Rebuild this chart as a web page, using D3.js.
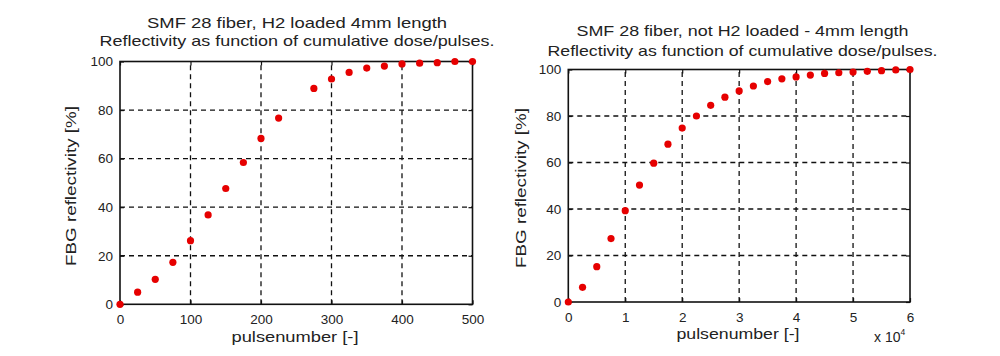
<!DOCTYPE html>
<html><head><meta charset="utf-8">
<script src="https://cdn.jsdelivr.net/npm/d3@7"></script>
<style>body{margin:0;background:#fff}svg{display:block}text{font-family:"Liberation Sans",Arial,sans-serif;fill:#222}</style>
</head><body><svg id="c" width="1000" height="356"></svg>
<script>
// Left panel: H2 loaded
const leftPulses = [0,25,50,75,100,125,150,175,200,225,275,300,325,350,375,400,425,450,475,500];
const leftRefl   = [0,5.0,10.3,17.3,26.2,36.8,47.7,58.4,68.3,76.7,88.9,92.8,95.5,97.3,98.1,99.0,99.3,99.5,100,100];
// Right panel: not H2 loaded (pulses in units of 1e4)
const rightPulses = [0,0.25,0.5,0.75,1.0,1.25,1.5,1.75,2.0,2.25,2.5,2.75,3.0,3.25,3.5,3.75,4.0,4.25,4.5,4.75,5.0,5.25,5.5,5.75,6.0];
const rightRefl   = [0,6.3,15.2,27.3,39.3,50.3,59.7,67.9,74.8,80.0,84.6,88.1,90.8,92.9,94.8,96.0,96.8,97.6,98.3,98.6,98.9,99.2,99.5,99.8,100];
const leftXTicks = [0,100,200,300,400,500];
const rightXTicks = [0,1,2,3,4,5,6];
const yTicks = [0,20,40,60,80,100];
const leftTitle = ["SMF 28 fiber, H2 loaded 4mm length","Reflectivity as function of cumulative dose/pulses."];
const rightTitle = ["SMF 28 fiber, not H2 loaded - 4mm length","Reflectivity as function of cumulative dose/pulses."];
const xLabel = "pulsenumber [-]";
const yLabel = "FBG reflectivity [%]";

const svg = d3.select("#c");

function panel(cfg){
  const x = d3.scaleLinear().domain(cfg.xdom).range([cfg.x0,cfg.x1]);
  const y = d3.scaleLinear().domain([0,100]).range([cfg.yb,cfg.yt]);
  const g = svg.append("g");
  // grid
  g.selectAll(".gx").data(cfg.xticks.slice(1,-1)).enter().append("line")
    .attr("x1",d=>x(d)).attr("x2",d=>x(d)).attr("y1",cfg.yb).attr("y2",cfg.yt)
    .attr("stroke","#111").attr("stroke-width",1.3).attr("stroke-dasharray","5,4");
  g.selectAll(".gy").data(yTicks.slice(1,-1)).enter().append("line")
    .attr("y1",d=>y(d)).attr("y2",d=>y(d)).attr("x1",cfg.x0).attr("x2",cfg.x1)
    .attr("stroke","#111").attr("stroke-width",1.3).attr("stroke-dasharray","5,4");
  // axes with inward ticks
  const ax = d3.axisBottom(x).tickValues(cfg.xticks).tickSize(-4).tickPadding(10).tickFormat(d3.format("d"));
  const ay = d3.axisLeft(y).tickValues(yTicks).tickSize(-4).tickPadding(7).tickFormat(d3.format("d"));
  const gx = g.append("g").attr("transform",`translate(0,${cfg.yb})`).call(ax);
  const gy = g.append("g").attr("transform",`translate(${cfg.x0},0)`).call(ay);
  const gx2 = g.append("g").attr("transform",`translate(0,${cfg.yt})`).call(d3.axisTop(x).tickValues(cfg.xticks).tickSize(-4).tickFormat(""));
  const gy2 = g.append("g").attr("transform",`translate(${cfg.x1},0)`).call(d3.axisRight(y).tickValues(yTicks).tickSize(-4).tickFormat(""));
  [gx,gy,gx2,gy2].forEach(a=>{
    a.select(".domain").remove();
    a.selectAll(".tick line").attr("stroke","#111").attr("stroke-width",1.2);
    a.selectAll("text").attr("font-size",13.5).attr("fill","#222").attr("font-family","Liberation Sans, Arial, sans-serif");
  });
  // box
  g.append("rect").attr("x",cfg.x0).attr("y",cfg.yt).attr("width",cfg.x1-cfg.x0).attr("height",cfg.yb-cfg.yt)
    .attr("fill","none").attr("stroke","#111").attr("stroke-width",1.6);
  // points
  g.selectAll("circle").data(cfg.xs.map((d,i)=>[d,cfg.ys[i]])).enter().append("circle")
    .attr("cx",d=>x(d[0])).attr("cy",d=>y(d[1])).attr("r",3.6).attr("fill","#e60000");
  // titles
  cfg.title.forEach((t,i)=>{
    g.append("text").attr("x",cfg.tcx).attr("y",cfg.tby[i]).attr("text-anchor","middle")
      .attr("font-size",15).attr("textLength",cfg.tlen[i]).attr("lengthAdjust","spacingAndGlyphs").text(t);
  });
  g.append("text").attr("x",cfg.xlx).attr("y",cfg.xly).attr("text-anchor","middle").attr("font-size",15)
    .attr("textLength",cfg.xlen).attr("lengthAdjust","spacingAndGlyphs").text(xLabel);
  g.append("text").attr("transform",`translate(${cfg.ylx},${cfg.yly}) rotate(-90)`).attr("text-anchor","middle")
    .attr("font-size",14).attr("textLength",160).attr("lengthAdjust","spacingAndGlyphs").text(yLabel);
  return {x,y,g};
}

panel({xdom:[0,500],x0:120,x1:472.5,yt:61.5,yb:304.3,xticks:leftXTicks,xs:leftPulses,ys:leftRefl,
  title:leftTitle,tcx:297,tby:[28,45.5],tlen:[300,395],xlx:295,xly:341.5,xlen:127,ylx:75.5,yly:186});
const r = panel({xdom:[0,6],x0:568.3,x1:910,yt:69.5,yb:302,xticks:rightXTicks,xs:rightPulses,ys:rightRefl,
  title:rightTitle,tcx:742.5,tby:[36,55.5],tlen:[332,390],xlx:738,xly:338.5,xlen:123,ylx:525.5,yly:188});
const ex = r.g.append("text").attr("x",874).attr("y",342).attr("font-size",14);
ex.append("tspan").text("x 10");
ex.append("tspan").attr("dy",-7).attr("font-size",8.5).text("4");
</script></body></html>
